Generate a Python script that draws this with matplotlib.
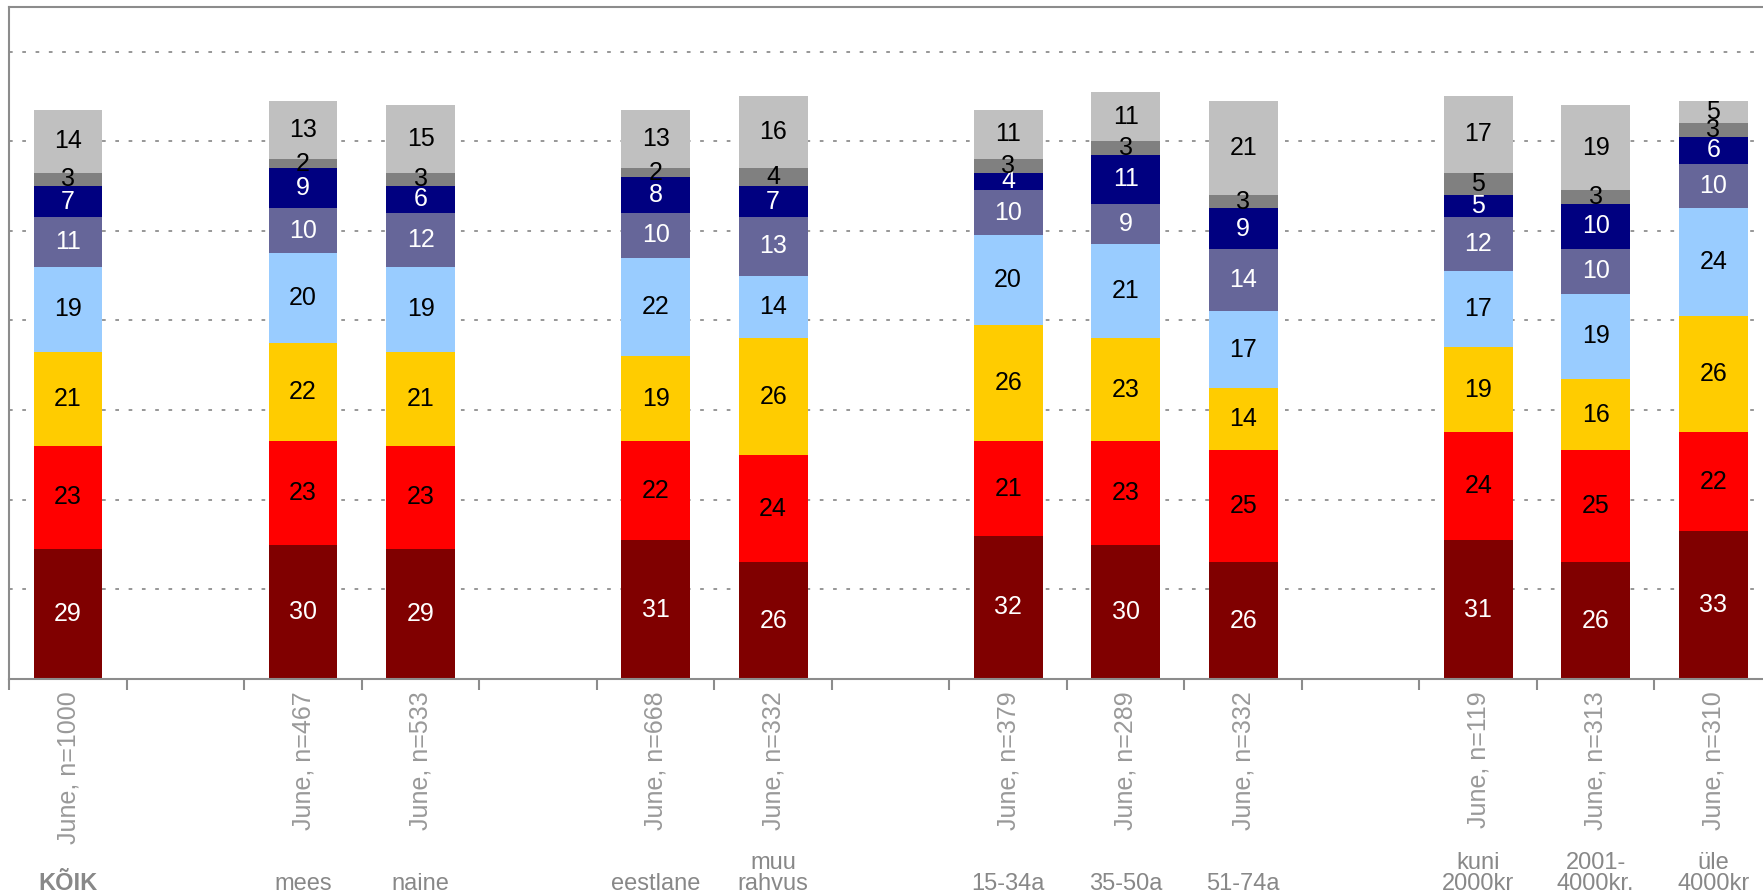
import matplotlib.pyplot as plt
import numpy as np

plt.rcParams["font.family"] = ["Liberation Sans", "DejaVu Sans"]

# kategooriad ja nende positsioon (slot) teljel, vahedega gruppide vahel
groups = ["KÕIK", "mees", "naine", "eestlane", "muu\nrahvus",
          "15-34a", "35-50a", "51-74a",
          "kuni\n2000kr", "2001-\n4000kr.", "üle\n4000kr"]
slots = [0, 2, 3, 5, 6, 8, 9, 10, 12, 13, 14]
n_labels = ["June, n=1000", "June, n=467", "June, n=533", "June, n=668",
            "June, n=332", "June, n=379", "June, n=289", "June, n=332",
            "June, n=119", "June, n=313", "June, n=310"]

# seeriad alt üles
s1 = [29, 30, 29, 31, 26, 32, 30, 26, 31, 26, 33]
s2 = [23, 23, 23, 22, 24, 21, 23, 25, 24, 25, 22]
s3 = [21, 22, 21, 19, 26, 26, 23, 14, 19, 16, 26]
s4 = [19, 20, 19, 22, 14, 20, 21, 17, 17, 19, 24]
s5 = [11, 10, 12, 10, 13, 10, 9, 14, 12, 10, 10]
s6 = [7, 9, 6, 8, 7, 4, 11, 9, 5, 10, 6]
s7 = [3, 2, 3, 2, 4, 3, 3, 3, 5, 3, 3]
s8 = [14, 13, 15, 13, 16, 11, 11, 21, 17, 19, 5]

series = [s1, s2, s3, s4, s5, s6, s7, s8]
colors = ["#800000", "#FF0000", "#FFCC00", "#99CCFF",
          "#666699", "#000080", "#808080", "#C0C0C0"]
text_colors = ["white", "black", "black", "black",
               "white", "white", "black", "black"]

GRAY = "#8c8c8c"
W, H = 1763, 894

fig = plt.figure(figsize=(W / 100, H / 100), dpi=100)
ax = fig.add_axes([9.3 / W, (H - 679) / H, (1772 - 9.3) / W, (679 - 6.7) / H])

x = np.array(slots, dtype=float)
bottom = np.zeros(len(slots))
for vals, col, tcol in zip(series, colors, text_colors):
    vals = np.array(vals, dtype=float)
    ax.bar(x, vals, width=0.585, bottom=bottom, color=col, zorder=2)
    for xi, b, v in zip(x, bottom, vals):
        ax.text(xi, b + v / 2, f"{int(v)}", ha="center", va="center",
                fontsize=18, color=tcol, zorder=3)
    bottom += vals

ax.set_xlim(-0.5, 14.5)
ax.set_ylim(0, 150)

# punktiirjooned
for yv in range(20, 150, 20):
    ax.axhline(yv, color="#7a7a7a", lw=1.1, ls=(0, (2.4, 6.3)), zorder=1)

ax.set_yticks([])
for side in ["left", "top", "bottom"]:
    ax.spines[side].set_color(GRAY)
    ax.spines[side].set_linewidth(1.5)
ax.spines["right"].set_visible(False)

ax.set_xticks(np.arange(-0.5, 15.0, 1.0), minor=True)
ax.tick_params(axis="x", which="minor", length=8, width=1.5, color=GRAY)
ax.set_xticks(x)
ax.set_xticklabels(n_labels, rotation=90, fontsize=18, color="#999999")
ax.tick_params(axis="x", which="major", length=0, pad=9)

trans = ax.get_xaxis_transform()
for xi, g in zip(x, groups):
    ax.text(xi, -0.322, g, transform=trans, ha="center", va="bottom",
            fontsize=17, color="#888888", linespacing=0.95,
            fontweight="bold" if g == "KÕIK" else "normal")

fig.savefig("out.png", dpi=100)
